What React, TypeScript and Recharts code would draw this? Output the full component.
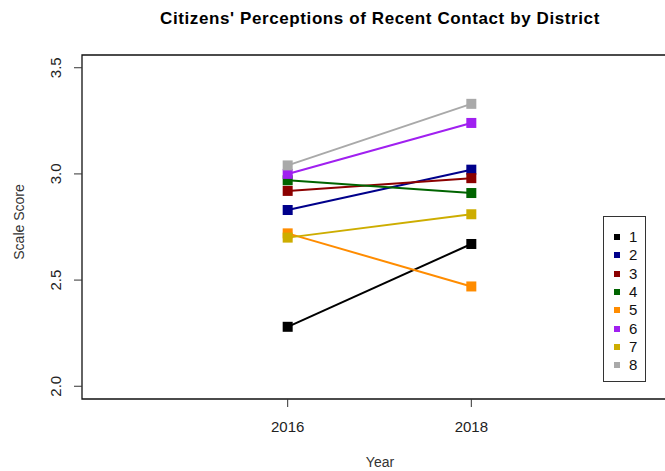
import React from 'react'
import {
  LineChart,
  Line,
  XAxis,
  YAxis,
  ReferenceArea,
} from 'recharts'

const years = [2016, 2018]
const districts = ['1', '2', '3', '4', '5', '6', '7', '8']
const colors = ['#000000', '#00008B', '#8B0000', '#006400', '#FF8C00', '#A020F0', '#CDAD00', '#A9A9A9']
const scores2016 = [2.28, 2.83, 2.92, 2.97, 2.72, 3.0, 2.7, 3.04]
const scores2018 = [2.67, 3.02, 2.98, 2.91, 2.47, 3.24, 2.81, 3.33]
const yTicks = [2.0, 2.5, 3.0, 3.5]

const xDomain: [number, number] = [2013.76, 2020.24]
const yDomain: [number, number] = [1.94, 3.56]

const data = years.map((year, i) => {
  const row: Record<string, number> = { year }
  const vals = i === 0 ? scores2016 : scores2018
  districts.forEach((d, j) => { row['d' + d] = vals[j] })
  return row
})

const FONT = '"Liberation Sans", Arial, sans-serif'

function squareDot(color: string) {
  return (p: any) => (
    <rect
      key={`${color}-${p.index}`}
      x={p.cx - 5}
      y={p.cy - 5}
      width={10}
      height={10}
      fill={color}
    />
  )
}

const YTick = (p: any) => (
  <text
    x={61}
    y={p.y}
    transform={`rotate(-90, 61, ${p.y})`}
    textAnchor="middle"
    fontSize={15}
    fontFamily={FONT}
    fill="#222"
  >
    {p.payload.value.toFixed(1)}
  </text>
)

const XTick = (p: any) => (
  <text x={p.x} y={432} textAnchor="middle" fontSize={15} fontFamily={FONT} fill="#222">
    {p.payload.value}
  </text>
)

const LegendBox = () => (
  <div
    style={{
      position: 'absolute',
      left: 603,
      top: 216,
      width: 43,
      height: 166,
      border: '1px solid #333',
      background: '#fff',
      boxSizing: 'border-box',
      paddingTop: 11,
    }}
  >
    {districts.map((d, i) => (
      <div key={d} style={{ display: 'flex', alignItems: 'center', height: 18.3 }}>
        <span style={{ width: 6, height: 6, background: colors[i], marginLeft: 10, marginRight: 9 }} />
        <span style={{ fontFamily: FONT, fontSize: 15, color: '#111', lineHeight: '18px' }}>{d}</span>
      </div>
    ))}
  </div>
)

export default function App() {
  return (
    <div style={{ position: 'relative', width: 665, height: 471, overflow: 'hidden', background: '#fff' }}>
      <style>{'body{margin:0}'}</style>
      <div
        style={{
          position: 'absolute', top: 9, left: 0, width: 760, textAlign: 'center',
          fontFamily: FONT, fontWeight: 'bold', fontSize: 17, letterSpacing: 0.6, color: '#000',
        }}
      >
        Citizens' Perceptions of Recent Contact by District
      </div>
      <div
        style={{
          position: 'absolute', top: 454, left: 0, width: 760, textAlign: 'center',
          fontFamily: FONT, fontSize: 14, color: '#333',
        }}
      >
        Year
      </div>
      <div
        style={{
          position: 'absolute', left: 19, top: 222, transform: 'translate(-50%, -50%) rotate(-90deg)',
          fontFamily: FONT, fontSize: 14, color: '#333', whiteSpace: 'nowrap',
        }}
      >
        Scale Score
      </div>
      <div style={{ position: 'absolute', left: 0, top: 0 }}>
        <LineChart
          width={700}
          height={471}
          data={data}
          margin={{ top: 55, right: 23, bottom: 42, left: 42 }}
        >
          <XAxis
            dataKey="year"
            type="number"
            domain={xDomain}
            ticks={years}
            allowDataOverflow
            axisLine={false}
            tickLine={{ stroke: '#333' }}
            tickSize={8}
            height={30}
            tick={<XTick />}
          />
          <YAxis
            type="number"
            domain={yDomain}
            ticks={yTicks}
            allowDataOverflow
            axisLine={false}
            tickLine={{ stroke: '#333' }}
            tickSize={8}
            width={40}
            tick={<YTick />}
          />
          <ReferenceArea
            x1={xDomain[0]}
            x2={xDomain[1]}
            y1={yDomain[0]}
            y2={yDomain[1]}
            fill="none"
            stroke="#111"
            strokeWidth={1.3}
            ifOverflow="visible"
          />
          {districts.map((d, i) => (
            <Line
              key={d}
              dataKey={'d' + d}
              stroke={colors[i]}
              strokeWidth={2}
              dot={squareDot(colors[i])}
              activeDot={false}
              isAnimationActive={false}
            />
          ))}
        </LineChart>
      </div>
      <LegendBox />
    </div>
  )
}
